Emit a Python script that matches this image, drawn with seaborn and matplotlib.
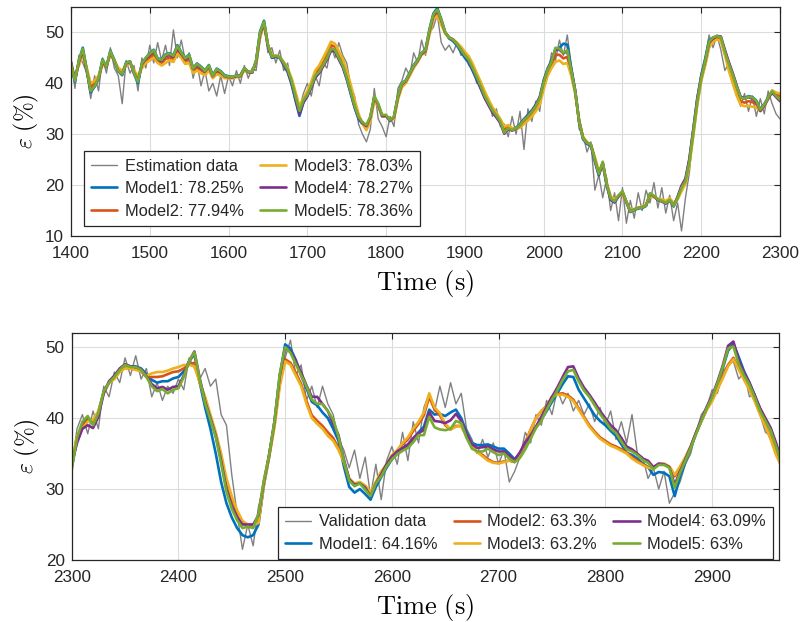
import numpy as np
import matplotlib
matplotlib.use("Agg")
import matplotlib.pyplot as plt
import seaborn as sns

# ---------------- data: estimation (top panel), 5 s grid ----------------
t_est = np.arange(1400, 2301, 5)
est_data = [
    44.5, 39.0, 45.5, 44.0, 42.0, 37.0, 41.5, 38.5, 45.0, 42.0,
    47.0, 43.0, 41.5, 36.0, 44.5, 42.0, 43.5, 38.5, 45.0, 43.0,
    47.5, 44.0, 48.0, 44.5, 47.5, 43.5, 50.5, 45.0, 48.5, 44.5,
    46.0, 41.0, 44.0, 39.5, 42.5, 38.5, 40.0, 37.5, 41.5, 38.0,
    41.5, 39.5, 42.5, 40.0, 43.5, 41.0, 43.0, 42.5, 48.5, 51.5,
    46.0, 47.0, 44.0, 46.5, 42.5, 44.0, 39.5, 37.0, 35.0, 38.0,
    40.0, 37.5, 41.5, 39.5, 44.0, 43.0, 47.5, 45.0, 48.0, 45.5,
    44.0, 39.5, 37.5, 32.0, 30.0, 28.5, 31.0, 39.0, 33.0, 31.5,
    29.5, 33.5, 31.5, 39.0, 40.5, 43.0, 41.5, 46.0, 44.0, 48.5,
    45.5, 50.0, 51.0, 53.5, 48.0, 46.5, 47.5, 46.0, 48.0, 45.5,
    46.0, 43.5, 43.5, 40.0, 40.5, 37.0, 37.0, 33.5, 35.0, 31.5,
    32.0, 29.5, 33.5, 30.0, 34.5, 27.0, 35.0, 32.5, 36.5, 34.5,
    41.0, 41.5, 46.0, 44.5, 48.5, 45.5, 49.5, 43.5, 39.0, 31.0,
    30.0, 26.5, 28.5, 19.0, 22.0, 17.5, 21.5, 15.0, 18.5, 13.0,
    19.5, 12.5, 17.0, 13.5, 18.5, 15.0, 19.0, 16.5, 20.5, 15.5,
    19.5, 14.5, 18.0, 13.0, 16.5, 11.0, 17.5, 22.5, 31.0, 35.5,
    42.0, 45.0, 49.5, 47.0, 49.5, 46.5, 42.5, 44.0, 40.0, 39.5,
    35.5, 38.0, 34.5, 37.5, 33.5, 37.0, 34.0, 38.5, 36.0, 34.0,
    33.0]
est_m1 = [
    43.8, 40.3, 44.5, 47.0, 42.6, 38.2, 39.4, 41.0, 44.7, 43.3,
    46.4, 44.6, 42.4, 41.6, 44.1, 44.3, 41.9, 40.0, 43.9, 45.0,
    45.9, 46.6, 44.9, 44.7, 45.7, 45.9, 45.5, 47.5, 46.1, 45.0,
    45.6, 43.0, 43.9, 43.3, 42.5, 43.6, 41.6, 42.9, 42.4, 41.6,
    41.4, 41.3, 41.5, 41.6, 43.0, 42.3, 42.1, 44.5, 50.2, 52.3,
    47.5, 45.0, 45.2, 45.0, 43.6, 42.2, 39.8, 36.6, 33.6, 36.2,
    37.5, 39.3, 41.3, 42.2, 43.5, 44.8, 46.5, 46.4, 44.8, 43.2,
    40.8, 38.0, 35.2, 33.0, 32.0, 31.5, 33.3, 37.2, 35.6, 33.5,
    33.6, 32.6, 33.4, 37.5, 40.0, 40.6, 42.1, 43.6, 44.6, 46.0,
    46.6, 50.6, 53.7, 54.8, 52.6, 50.0, 48.8, 48.3, 47.4, 46.2,
    45.0, 44.0, 42.4, 40.7, 39.0, 37.2, 35.8, 34.5, 33.5, 32.4,
    30.3, 31.3, 30.9, 31.3, 32.0, 33.0, 33.8, 34.7, 35.8, 37.3,
    40.6, 42.9, 44.5, 46.5, 47.0, 47.8, 47.6, 43.0, 38.6, 32.4,
    29.0, 28.1, 27.7, 24.6, 21.9, 24.2, 19.9, 17.1, 16.6, 17.8,
    18.6, 16.6, 14.7, 15.1, 15.4, 15.5, 15.9, 18.2, 17.8, 17.1,
    16.8, 16.4, 17.0, 15.8, 17.6, 19.7, 21.0, 25.0, 31.0, 37.0,
    41.5, 44.8, 48.4, 49.0, 49.2, 48.8, 46.3, 43.9, 41.8, 39.4,
    37.3, 37.1, 37.5, 37.3, 36.6, 34.9, 35.9, 37.3, 38.4, 37.4,
    36.7]
est_m2 = [
    43.4, 41.0, 44.0, 46.1, 42.8, 39.3, 40.0, 41.2, 44.0, 43.4,
    45.9, 44.5, 42.8, 42.2, 43.8, 44.1, 42.2, 40.9, 43.5, 44.5,
    45.1, 45.7, 44.4, 44.0, 44.8, 45.1, 44.8, 46.5, 45.5, 44.3,
    44.7, 42.4, 43.1, 42.6, 42.0, 43.0, 41.2, 42.3, 41.9, 41.2,
    41.1, 41.1, 41.3, 41.4, 42.7, 42.2, 42.2, 44.2, 49.5, 51.8,
    47.5, 45.3, 45.4, 45.1, 44.1, 42.8, 40.7, 37.9, 35.0, 36.8,
    38.1, 39.9, 42.0, 42.9, 44.3, 45.7, 47.5, 47.2, 45.6, 44.1,
    41.8, 39.1, 36.2, 33.7, 32.2, 31.3, 33.0, 37.0, 35.8, 33.6,
    33.6, 32.8, 33.2, 37.1, 39.6, 40.2, 41.7, 43.2, 44.3, 45.8,
    46.2, 50.0, 53.0, 53.9, 52.0, 49.9, 49.0, 48.6, 47.8, 46.9,
    45.8, 44.9, 43.4, 41.6, 39.9, 38.0, 36.4, 35.0, 33.9, 32.7,
    30.9, 31.5, 31.0, 31.1, 31.5, 32.4, 33.1, 33.9, 35.0, 36.4,
    39.5, 42.0, 43.6, 45.6, 45.6, 44.9, 45.2, 42.0, 38.2, 32.6,
    29.3, 28.4, 27.9, 25.2, 22.5, 24.3, 20.3, 17.6, 17.0, 17.9,
    18.5, 16.7, 15.0, 15.2, 15.5, 15.7, 16.1, 18.1, 17.7, 17.2,
    17.0, 16.7, 17.2, 16.2, 17.3, 19.1, 20.5, 24.3, 30.1, 36.1,
    40.7, 43.9, 47.6, 48.6, 49.0, 48.6, 45.9, 43.1, 40.8, 38.4,
    36.5, 36.2, 36.5, 36.3, 35.9, 34.6, 35.6, 37.1, 38.5, 37.8,
    37.5]
est_m3 = [
    43.0, 41.5, 43.5, 45.5, 43.0, 40.0, 40.5, 41.5, 43.5, 43.5,
    45.5, 44.5, 43.0, 42.5, 43.5, 44.0, 42.5, 41.5, 43.0, 44.0,
    44.5, 45.0, 44.0, 43.5, 44.0, 44.5, 44.2, 45.8, 45.0, 43.8,
    44.0, 42.0, 42.5, 42.0, 41.6, 42.5, 41.0, 41.8, 41.5, 41.0,
    41.0, 41.0, 41.2, 41.3, 42.5, 42.2, 42.3, 44.0, 49.0, 51.5,
    47.5, 45.5, 45.5, 45.0, 44.2, 43.0, 41.0, 38.3, 35.5, 37.0,
    38.5, 40.3, 42.5, 43.5, 45.0, 46.5, 48.2, 47.8, 46.3, 44.8,
    42.5, 39.8, 36.8, 34.0, 32.0, 30.8, 32.5, 36.5, 35.5, 33.5,
    33.5, 32.8, 33.0, 36.8, 39.2, 40.0, 41.5, 43.0, 44.2, 45.6,
    46.0, 49.5, 52.5, 53.3, 51.5, 49.8, 49.0, 48.6, 48.0, 47.2,
    46.2, 45.3, 43.8, 42.0, 40.3, 38.5, 36.8, 35.3, 34.2, 33.0,
    31.5, 31.8, 31.2, 31.0, 31.3, 32.0, 32.7, 33.5, 34.5, 35.8,
    38.8, 41.5, 43.0, 44.2, 44.5, 43.8, 44.0, 41.5, 38.0, 32.8,
    29.5, 28.5, 27.8, 25.5, 22.8, 24.0, 20.5, 17.8, 17.2, 17.8,
    18.2, 16.6, 15.2, 15.3, 15.6, 15.8, 16.2, 17.8, 17.6, 17.3,
    17.2, 16.9, 17.4, 16.5, 17.2, 18.8, 20.3, 24.0, 29.8, 35.8,
    40.5, 43.5, 47.0, 48.2, 48.6, 48.3, 45.6, 42.5, 40.0, 37.6,
    35.8, 35.5, 35.6, 35.4, 35.3, 34.5, 35.5, 37.0, 38.6, 38.2,
    38.0]
est_m4 = [
    44.3, 40.6, 44.2, 46.4, 42.4, 38.6, 39.4, 40.9, 44.3, 43.2,
    46.1, 44.4, 42.4, 41.8, 43.9, 44.2, 42.0, 40.5, 43.7, 44.8,
    45.6, 46.3, 44.7, 44.4, 45.4, 45.6, 45.2, 47.0, 45.8, 44.7,
    45.3, 42.8, 43.6, 43.0, 42.3, 43.3, 41.4, 42.6, 42.2, 41.4,
    41.2, 41.2, 41.4, 41.4, 42.9, 42.2, 42.1, 44.3, 49.7, 51.8,
    47.3, 45.1, 45.3, 45.1, 43.8, 42.4, 40.1, 37.0, 34.0, 36.3,
    37.5, 39.2, 41.1, 42.0, 43.3, 44.7, 46.4, 46.3, 44.7, 43.2,
    41.0, 38.2, 35.4, 33.2, 32.2, 31.6, 33.3, 37.3, 35.8, 33.6,
    33.6, 32.7, 33.4, 37.3, 39.8, 40.4, 41.9, 43.4, 44.4, 45.8,
    46.3, 50.2, 53.3, 54.3, 52.4, 50.0, 49.0, 48.6, 47.7, 46.6,
    45.4, 44.4, 42.7, 41.0, 39.1, 37.2, 35.7, 34.3, 33.3, 32.2,
    30.1, 31.0, 30.7, 31.1, 31.8, 32.9, 33.6, 34.5, 35.7, 37.2,
    40.3, 42.7, 44.3, 46.8, 46.6, 45.9, 46.3, 42.6, 38.6, 32.6,
    29.2, 28.3, 27.9, 24.9, 22.1, 24.4, 20.1, 17.2, 16.6, 17.8,
    18.7, 16.7, 14.8, 15.2, 15.5, 15.6, 16.0, 18.3, 17.8, 17.1,
    16.8, 16.4, 17.0, 15.9, 17.7, 19.9, 21.3, 25.2, 31.0, 37.0,
    41.3, 44.3, 48.0, 48.8, 49.3, 49.2, 46.6, 44.2, 42.0, 39.6,
    37.3, 37.0, 37.3, 37.0, 36.3, 34.6, 35.6, 37.0, 38.2, 37.3,
    36.5]
est_m5 = [
    43.8, 40.5, 44.5, 46.8, 42.6, 38.5, 39.5, 41.0, 44.6, 43.3,
    46.3, 44.5, 42.5, 41.8, 44.0, 44.3, 42.0, 40.3, 43.9, 45.0,
    45.8, 46.5, 44.8, 44.6, 45.6, 45.8, 45.4, 47.3, 46.0, 44.9,
    45.5, 42.9, 43.8, 43.2, 42.4, 43.5, 41.5, 42.8, 42.3, 41.5,
    41.3, 41.3, 41.5, 41.5, 43.0, 42.3, 42.2, 44.5, 50.0, 52.1,
    47.5, 45.2, 45.4, 45.2, 44.0, 42.7, 40.5, 37.5, 34.6, 36.7,
    37.8, 39.5, 41.5, 42.3, 43.6, 45.0, 46.8, 46.6, 45.0, 43.5,
    41.2, 38.4, 35.6, 33.4, 32.4, 31.8, 33.5, 37.5, 36.0, 33.8,
    33.8, 32.8, 33.5, 37.5, 40.0, 40.5, 42.0, 43.5, 44.5, 46.0,
    46.5, 50.5, 53.5, 54.5, 52.5, 50.0, 49.0, 48.6, 47.7, 46.6,
    45.5, 44.6, 43.0, 41.3, 39.5, 37.6, 36.1, 34.7, 33.7, 32.5,
    30.3, 31.2, 30.8, 31.2, 31.8, 32.8, 33.5, 34.4, 35.5, 37.0,
    40.2, 42.6, 44.2, 47.0, 46.8, 46.0, 46.5, 42.5, 38.5, 32.5,
    29.2, 28.3, 28.0, 25.0, 22.2, 24.6, 20.2, 17.4, 16.8, 18.0,
    18.8, 16.8, 14.8, 15.2, 15.5, 15.6, 16.0, 18.4, 17.9, 17.2,
    16.9, 16.5, 17.1, 15.9, 17.5, 19.5, 20.8, 24.6, 30.5, 36.5,
    41.0, 44.3, 48.2, 49.0, 49.3, 49.0, 46.2, 43.8, 41.7, 39.3,
    37.2, 37.0, 37.4, 37.2, 36.5, 34.8, 35.8, 37.2, 38.5, 37.5,
    36.8]

# ---------------- data: validation (bottom panel), 5 s grid ----------------
t_val = np.arange(2300, 2966, 5)
val_data = [
    33.0, 38.5, 40.5, 37.8, 41.0, 38.5, 44.5, 43.0, 46.5, 45.0,
    48.5, 46.0, 48.8, 45.5, 47.0, 43.0, 45.0, 42.5, 44.5, 43.5,
    45.5, 44.0, 48.5, 47.0, 45.5, 47.0, 44.5, 45.5, 40.5, 39.0,
    32.0, 26.5, 21.5, 25.0, 22.0, 27.5, 30.5, 35.5, 39.0, 45.5,
    48.5, 51.0, 46.0, 47.5, 42.5, 44.5, 41.5, 44.5, 42.0, 40.5,
    37.0, 35.5, 33.0, 35.5, 31.5, 34.5, 29.0, 33.5, 28.5, 34.0,
    36.0, 33.5, 38.0, 34.0, 39.5, 36.5, 41.5, 43.5, 41.0, 44.5,
    41.5, 45.0, 42.0, 43.5, 38.5, 37.0, 35.0, 37.0, 34.5, 36.5,
    33.5, 35.5, 31.0, 32.5, 34.5, 38.0, 36.5, 40.5, 39.0, 42.5,
    40.5, 44.0, 42.0, 43.5, 41.0, 42.5, 40.5, 42.0, 39.5, 41.5,
    39.0, 41.0, 37.0, 39.5, 36.5, 40.5, 35.0, 34.5, 31.5, 33.0,
    30.0, 32.5, 28.0, 29.5, 31.0, 33.5, 35.0, 38.0, 40.5, 41.5,
    44.0, 43.5, 46.5, 47.5, 48.0, 45.5, 46.5, 43.0, 43.5, 40.5,
    38.0, 37.5, 35.0, 33.5]
val_m1 = [
    33.0, 37.0, 39.0, 40.0, 39.5, 40.8, 43.8, 45.0, 45.9, 46.9,
    47.5, 47.3, 47.3, 47.0, 46.2, 45.4, 45.0, 45.2, 45.2, 45.6,
    45.8, 46.6, 48.0, 49.0, 45.0, 41.5, 38.5, 35.0, 31.0, 28.0,
    26.0, 24.5, 23.5, 23.2, 23.5, 25.0, 30.5, 34.6, 39.5, 46.0,
    50.4, 49.8, 48.2, 46.0, 44.2, 42.3, 41.8, 40.8, 40.0, 38.5,
    36.8, 33.2, 30.3, 29.5, 30.0, 29.3, 28.5, 30.3, 31.7, 33.0,
    34.2, 35.0, 35.5, 36.2, 37.0, 38.0, 38.8, 41.2, 40.5, 40.6,
    40.3, 40.8, 41.2, 40.0, 38.0, 36.5, 36.2, 36.2, 36.3, 36.0,
    35.7, 35.7, 35.0, 34.2, 35.0, 36.3, 37.5, 38.7, 39.8, 41.0,
    42.3, 43.5, 44.8, 45.9, 45.8, 44.0, 42.8, 41.6, 40.4, 39.6,
    39.0, 38.2, 37.5, 36.3, 35.1, 34.8, 34.3, 33.6, 33.1, 32.0,
    32.4, 32.3, 31.8, 29.0, 31.8, 33.8, 35.8, 37.8, 39.6, 41.4,
    42.9, 44.9, 47.0, 49.5, 50.5, 48.6, 46.6, 45.0, 43.2, 41.3,
    39.8, 38.2, 36.2, 33.8]
val_m2 = [
    33.3, 37.3, 38.8, 39.7, 39.6, 40.9, 43.6, 45.0, 45.6, 46.6,
    47.1, 47.0, 46.9, 46.6, 45.8, 45.8, 45.8, 45.9, 46.2, 46.5,
    46.6, 47.0, 47.6, 47.8, 45.0, 42.8, 40.2, 37.5, 34.5, 31.0,
    28.6, 26.6, 25.3, 24.9, 24.9, 25.5, 30.8, 34.6, 39.0, 45.0,
    48.3, 47.8, 46.4, 44.8, 42.4, 40.4, 39.6, 38.9, 38.0, 37.2,
    35.8, 33.8, 31.4, 30.7, 30.9, 30.3, 29.4, 30.9, 32.3, 33.4,
    34.6, 35.4, 36.3, 37.0, 38.2, 39.2, 40.4, 43.0, 41.2, 40.4,
    39.0, 38.4, 38.9, 38.9, 37.4, 36.1, 35.2, 34.8, 34.2, 33.8,
    33.7, 33.9, 34.0, 33.8, 35.0, 36.6, 38.4, 40.0, 41.0, 41.7,
    43.0, 43.4, 43.5, 43.2, 42.6, 41.4, 40.2, 39.0, 38.1, 37.3,
    36.8, 36.3, 36.0, 35.6, 35.1, 34.5, 34.0, 33.5, 33.1, 33.0,
    33.5, 33.5, 33.1, 31.8, 33.0, 34.4, 36.0, 37.9, 39.6, 41.2,
    42.5, 44.1, 45.8, 47.5, 48.5, 47.0, 45.5, 44.1, 42.5, 40.6,
    38.9, 37.1, 35.0, 33.3]
val_m3 = [
    33.5, 37.5, 38.5, 39.5, 39.8, 41.0, 43.5, 45.0, 45.5, 46.5,
    47.0, 47.0, 46.8, 46.6, 46.0, 46.3, 46.5, 46.5, 46.7, 47.0,
    47.2, 47.5, 47.5, 47.3, 45.0, 43.0, 40.5, 38.0, 35.0, 31.5,
    29.0, 27.0, 25.5, 25.0, 25.0, 25.2, 30.5, 34.5, 38.8, 44.5,
    48.0, 47.5, 46.0, 44.5, 42.0, 40.0, 39.2, 38.5, 37.5, 36.8,
    35.5, 33.8, 31.5, 30.8, 31.0, 30.5, 29.6, 31.0, 32.5, 33.5,
    34.8, 35.5, 36.5, 37.3, 38.5, 39.5, 40.8, 43.5, 41.5, 40.7,
    39.2, 38.4, 38.8, 38.9, 37.5, 36.3, 35.2, 34.6, 34.0, 33.7,
    33.6, 33.8, 34.0, 33.9, 35.0, 36.5, 38.3, 40.0, 41.0, 41.6,
    43.0, 43.3, 43.3, 43.0, 42.4, 41.2, 40.0, 38.8, 37.9, 37.1,
    36.6, 36.1, 35.8, 35.4, 35.0, 34.3, 33.8, 33.4, 33.0, 32.9,
    33.5, 33.6, 33.2, 32.0, 33.2, 34.5, 36.0, 37.9, 39.6, 41.2,
    42.4, 44.0, 45.6, 47.3, 48.3, 46.8, 45.4, 44.0, 42.4, 40.5,
    38.8, 37.0, 34.8, 33.2]
val_m4 = [
    33.5, 36.5, 38.5, 39.0, 38.6, 40.2, 43.5, 45.2, 46.0, 47.0,
    47.6, 47.3, 47.2, 46.9, 45.9, 44.8, 44.2, 44.4, 44.0, 44.4,
    44.5, 46.0, 48.0, 49.4, 45.6, 42.3, 40.0, 37.5, 34.0, 30.0,
    27.6, 26.0, 25.0, 25.0, 25.0, 26.3, 31.0, 34.8, 39.5, 46.0,
    49.8, 49.4, 48.0, 46.4, 44.6, 43.0, 43.0, 42.0, 41.0, 39.2,
    37.6, 34.2, 31.4, 30.6, 30.8, 30.2, 29.0, 30.8, 32.1, 33.5,
    34.6, 35.3, 35.8, 36.3, 37.2, 37.9, 38.3, 40.8, 39.6, 39.5,
    39.3, 39.7, 40.6, 39.6, 37.7, 36.3, 35.8, 35.9, 36.0, 35.6,
    35.3, 35.3, 34.7, 34.1, 35.2, 36.6, 37.6, 38.8, 40.2, 41.6,
    43.0, 44.3, 45.8, 47.2, 47.3, 45.6, 44.3, 43.3, 42.2, 41.0,
    40.0, 39.0, 38.3, 37.2, 36.0, 35.6, 35.0, 34.3, 34.0, 33.1,
    33.6, 33.5, 33.1, 30.6, 32.5, 34.2, 36.0, 38.0, 39.8, 41.6,
    43.1, 45.1, 47.4, 50.2, 50.8, 48.2, 46.4, 45.0, 43.2, 41.4,
    40.0, 38.6, 36.5, 34.0]
val_m5 = [
    32.7, 37.3, 39.5, 40.3, 39.0, 40.7, 43.8, 45.0, 45.8, 46.8,
    47.5, 47.2, 47.2, 46.8, 45.8, 44.5, 43.8, 44.1, 43.5, 44.0,
    44.2, 45.8, 48.0, 49.3, 45.4, 42.1, 39.8, 37.3, 33.6, 29.6,
    27.2, 25.6, 24.5, 24.7, 24.5, 26.5, 31.2, 34.8, 39.6, 46.3,
    50.0, 49.2, 47.6, 46.0, 44.5, 42.6, 42.0, 42.0, 41.0, 39.8,
    37.4, 34.0, 31.2, 30.4, 30.8, 29.9, 29.0, 30.8, 31.8, 33.2,
    34.2, 34.9, 35.4, 35.8, 36.6, 37.6, 37.6, 40.2, 38.7, 38.4,
    38.3, 38.5, 39.6, 39.3, 37.2, 35.7, 35.3, 35.3, 35.7, 35.2,
    34.8, 35.0, 34.3, 33.8, 34.4, 35.6, 37.1, 38.6, 39.6, 41.2,
    42.6, 43.9, 45.4, 46.6, 46.8, 45.2, 43.9, 43.0, 41.8, 40.6,
    39.6, 38.5, 37.9, 36.7, 35.6, 35.3, 34.8, 34.1, 33.7, 32.8,
    33.4, 33.4, 33.0, 30.2, 32.3, 34.0, 35.8, 37.8, 39.6, 41.4,
    42.9, 44.9, 47.2, 49.8, 50.1, 47.6, 46.0, 44.7, 42.9, 41.0,
    39.6, 38.2, 36.0, 33.6]

est_labels = ["Estimation data", "Model1: 78.25%", "Model2: 77.94%",
              "Model3: 78.03%", "Model4: 78.27%", "Model5: 78.36%"]
val_labels = ["Validation data", "Model1: 64.16%", "Model2: 63.3%",
              "Model3: 63.2%", "Model4: 63.09%", "Model5: 63%"]
est_xticks = list(range(1400, 2301, 100))
est_yticks = [10, 20, 30, 40, 50]
val_xticks = list(range(2300, 2901, 100))
val_yticks = [20, 30, 40, 50]

# ---------------- style ----------------
sns.set_theme(style="white")
plt.rcParams["font.family"] = ["Liberation Sans", "DejaVu Sans"]
plt.rcParams["mathtext.fontset"] = "cm"
AX = "#262626"
colors = ["#808080", "#0072BD", "#D95319", "#EDB120", "#7E2F8E", "#77AC30"]

fig = plt.figure(figsize=(8.02, 6.22), dpi=100)
ax1 = fig.add_axes([71 / 802, 1 - 236 / 622, 709 / 802, 229 / 622])
ax2 = fig.add_axes([71.7 / 802, 1 - 560 / 622, 707.6 / 802, 227 / 622])


def draw(ax, t, series, labels):
    for i, (y, lab) in enumerate(zip(series, labels)):
        lw = 1.0 if i == 0 else 1.9
        sns.lineplot(x=t, y=np.asarray(y), ax=ax, color=colors[i], lw=lw,
                     label=lab, estimator=None, sort=False, legend=False)


draw(ax1, t_est, [est_data, est_m1, est_m2, est_m3, est_m4, est_m5], est_labels)
draw(ax2, t_val, [val_data, val_m1, val_m2, val_m3, val_m4, val_m5], val_labels)

for ax, xl, yl, xt, yt in [(ax1, (1400, 2300), (10, 55), est_xticks, est_yticks),
                           (ax2, (2300, 2963), (20, 52), val_xticks, val_yticks)]:
    ax.set_xlim(*xl)
    ax.set_ylim(*yl)
    ax.set_xticks(xt)
    ax.set_yticks(yt)
    ax.grid(True, color="#dcdcdc", lw=0.8)
    ax.set_axisbelow(True)
    for s in ax.spines.values():
        s.set_color(AX)
        s.set_linewidth(0.9)
        s.set_visible(True)
    ax.tick_params(direction="in", length=4, width=0.8, colors=AX,
                   top=True, right=True, labelsize=12.3)
    ax.tick_params(axis="x", pad=7)
    ax.tick_params(axis="y", pad=5)
    ax.set_xlabel(r"$\mathrm{Time\ (s)}$", fontsize=19, color="black", labelpad=5)
    ax.set_ylabel(r"$\varepsilon\ (\%)$", fontsize=17, color="black", labelpad=3)

legkw = dict(fontsize=11.8, frameon=True, fancybox=False, framealpha=1,
             edgecolor=AX, handlelength=1.6, handletextpad=0.45,
             columnspacing=1.0, labelspacing=0.45, borderpad=0.45,
             borderaxespad=0.0)

h1, l1 = ax1.get_legend_handles_labels()
leg1 = ax1.legend(h1, l1, ncol=2, loc="lower left",
                  bbox_to_anchor=(0.018, 0.044), **legkw)
leg1.get_frame().set_linewidth(0.9)

h2, l2 = ax2.get_legend_handles_labels()
leg2 = ax2.legend(h2, l2, ncol=3, loc="lower right",
                  bbox_to_anchor=(0.991, 0.004), **legkw)
leg2.get_frame().set_linewidth(0.9)

fig.savefig("out.png", dpi=100)
